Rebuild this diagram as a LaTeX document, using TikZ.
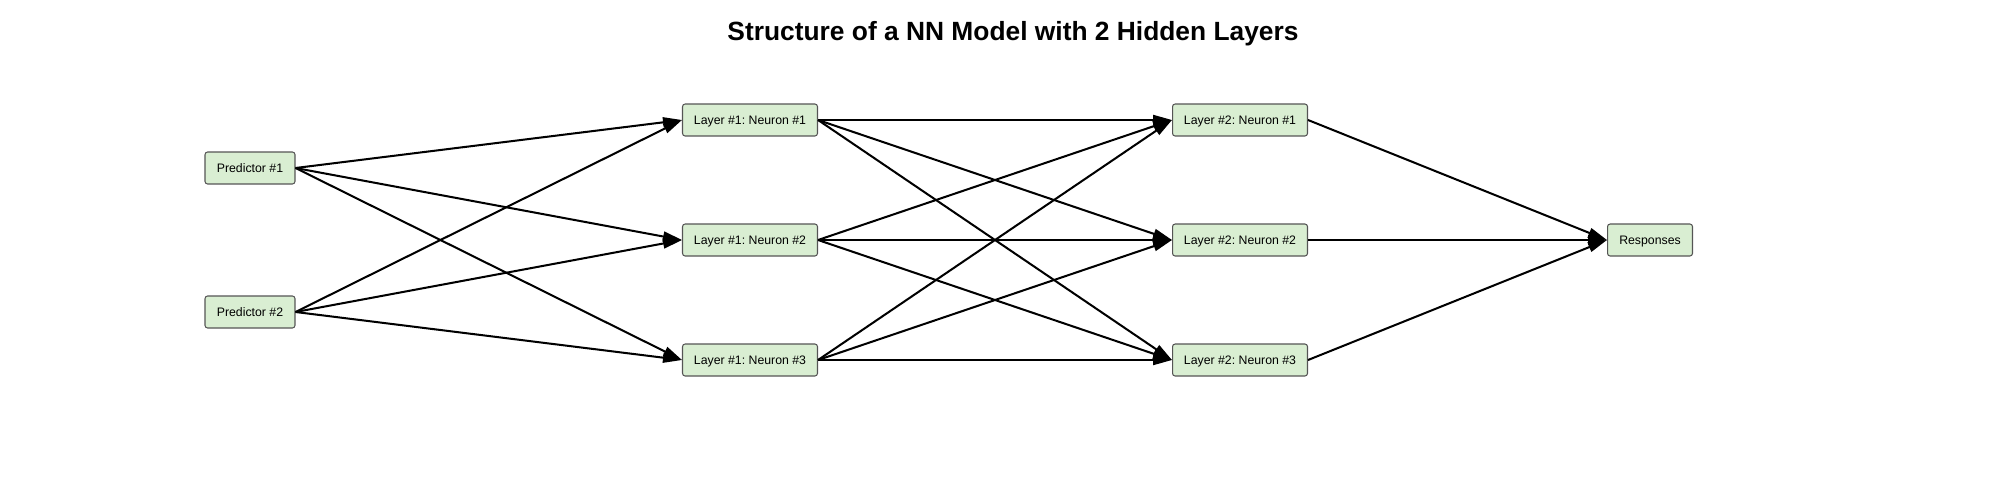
\documentclass[tikz,border=0pt]{standalone}
\usepackage{fontspec}
\setmainfont{Liberation Sans}
\usetikzlibrary{arrows.meta}
\frenchspacing
\definecolor{boxgreen}{RGB}{217,238,210}
\definecolor{boxline}{RGB}{85,85,85}
\tikzset{
  unit/.style={draw=boxline,fill=boxgreen,line width=0.6pt,rounded corners=1.5pt,
    minimum height=0.64cm,inner sep=0pt,text height=5.1pt,text depth=0pt,
    font=\fontsize{7}{8}\selectfont},
  predbox/.style={unit,minimum width=1.8cm},
  neuronbox/.style={unit,minimum width=2.7cm},
  respbox/.style={unit,minimum width=1.7cm},
  link/.style={line width=1.15pt,-{Triangle[length=0.38cm,width=0.2cm]}}
}
\begin{document}
\begin{tikzpicture}[x=0.02cm,y=-0.02cm]
                          \useasboundingbox (0,0) rectangle (2000,480);
                          \node[anchor=base,font=\fontsize{15}{18}\selectfont\bfseries] (title) at (1013,40) {Structure of a NN Model with 2 Hidden Layers};

                          \node[predbox] (P1) at (250,168) {Predictor \#1};
                          \node[predbox] (P2) at (250,312) {Predictor \#2};

                          \node[neuronbox] (A1) at (750,120) {Layer \#1: Neuron \#1};
                          \node[neuronbox] (A2) at (750,240) {Layer \#1: Neuron \#2};
                          \node[neuronbox] (A3) at (750,360) {Layer \#1: Neuron \#3};

                          \node[neuronbox] (B1) at (1240,120) {Layer \#2: Neuron \#1};
                          \node[neuronbox] (B2) at (1240,240) {Layer \#2: Neuron \#2};
                          \node[neuronbox] (B3) at (1240,360) {Layer \#2: Neuron \#3};

                          \node[respbox] (R) at (1650,240) {Responses};

                          \draw[link] (P1.east) -- (A1.west);
                          \draw[link] (P1.east) -- (A2.west);
                          \draw[link] (P1.east) -- (A3.west);
                          \draw[link] (P2.east) -- (A1.west);
                          \draw[link] (P2.east) -- (A2.west);
                          \draw[link] (P2.east) -- (A3.west);

                          \draw[link] (A1.east) -- (B1.west);
                          \draw[link] (A1.east) -- (B2.west);
                          \draw[link] (A1.east) -- (B3.west);
                          \draw[link] (A2.east) -- (B1.west);
                          \draw[link] (A2.east) -- (B2.west);
                          \draw[link] (A2.east) -- (B3.west);
                          \draw[link] (A3.east) -- (B1.west);
                          \draw[link] (A3.east) -- (B2.west);
                          \draw[link] (A3.east) -- (B3.west);

                          \draw[link] (B1.east) -- (R.west);
                          \draw[link] (B2.east) -- (R.west);
                          \draw[link] (B3.east) -- (R.west);
                          \end{tikzpicture}
\end{document}
